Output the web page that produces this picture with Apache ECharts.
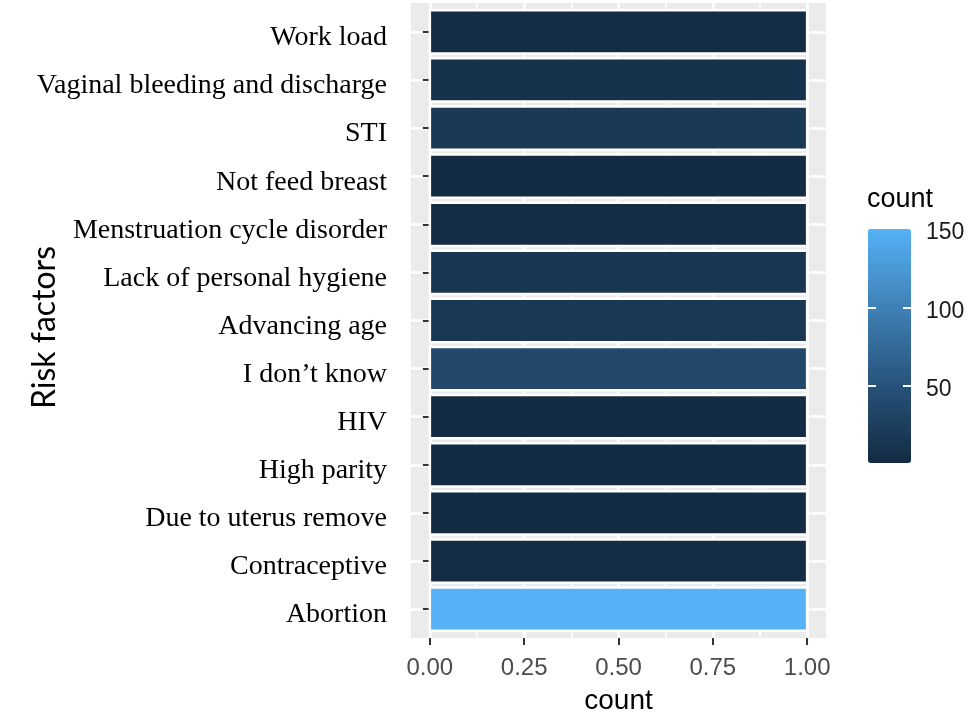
<!DOCTYPE html>
<html>
<head>
<meta charset="utf-8">
<script src="https://cdn.jsdelivr.net/npm/echarts@6/dist/echarts.min.js"></script>
<style>
html,body{margin:0;padding:0;background:#fff;}
#chart{width:968px;height:716px;}
</style>
</head>
<body>
<div id="chart"></div>
<script>
// Categories listed bottom -> top (as ggplot places them)
const categories = [
  'Abortion',
  'Contraceptive',
  'Due to uterus remove',
  'High parity',
  'HIV',
  'I don\u2019t know',
  'Advancing age',
  'Lack of personal hygiene',
  'Menstruation cycle disorder',
  'Not feed breast',
  'STI',
  'Vaginal bleeding and discharge',
  'Work load'
];
// bar length on the x axis ("count" of rows per factor)
const barValues = [1, 1, 1, 1, 1, 1, 1, 1, 1, 1, 1, 1, 1];
// fill variable (count) mapped to colour
const fillCounts = [150, 3, 2, 2, 1, 38, 17, 16, 3, 1, 18, 8, 3];
const xTicks = [0, 0.25, 0.5, 0.75, 1];
const xMinorTicks = [0.125, 0.375, 0.625, 0.875];
const legendTicks = [50, 100, 150];
const legendInnerTicks = [50, 100];

const gradient = ['#132B43','#1B3A57','#22496C','#2A5982','#336A98','#3C7BAF','#448DC6','#4D9FDE','#56B1F7'];

const yPositions = categories.map((c, i) => i + 1);
const data = categories.map((c, i) => [barValues[i], yPositions[i], fillCounts[i]]);

const chart = echarts.init(document.getElementById('chart'), null, {renderer: 'canvas'});

const legendTickAxis = (offset, inside) => ({
  type: 'value', gridIndex: 1, min: 1, max: 150, position: 'left', offset: offset,
  axisLine: {show: false},
  axisTick: {show: true, inside: inside, customValues: legendInnerTicks, length: 8, lineStyle: {color: '#ffffff', width: 2}},
  axisLabel: {show: false},
  splitLine: {show: false},
  z: 10
});

const option = {
  backgroundColor: '#ffffff',
  animation: false,
  title: {
    text: 'count',
    left: 867,
    top: 186,
    padding: 0,
    textStyle: {fontFamily: 'Liberation Sans', fontSize: 27, fontWeight: 'normal', color: '#000'}
  },
  grid: [
    {left: 411, top: 3, width: 415, height: 635, show: true, backgroundColor: '#EBEBEB', borderWidth: 0,
      containLabel: false, outerBoundsMode: 'none'},
    {left: 868, top: 229, width: 43, height: 234, show: false, containLabel: false, outerBoundsMode: 'none'}
  ],
  xAxis: [
    {
      type: 'value', gridIndex: 0, min: -0.05, max: 1.05,
      name: 'count', nameLocation: 'middle', nameGap: 49,
      nameTextStyle: {fontFamily: 'Liberation Sans', fontSize: 28, color: '#000'},
      axisLine: {show: false},
      axisTick: {show: true, customValues: xTicks, length: 7, lineStyle: {color: '#333', width: 2}},
      axisLabel: {show: true, customValues: xTicks, margin: 18, fontFamily: 'Liberation Sans', fontSize: 24, color: '#4D4D4D',
        formatter: v => v.toFixed(2)},
      splitLine: {show: true, lineStyle: {color: '#ffffff', width: 2.5}},
      z: 2
    },
    {
      type: 'value', gridIndex: 0, min: -0.05, max: 1.05,
      axisLine: {show: false},
      axisTick: {show: false, customValues: xMinorTicks},
      axisLabel: {show: false, customValues: xMinorTicks},
      splitLine: {show: true, lineStyle: {color: '#ffffff', width: 1.5}},
      z: 1
    },
    {type: 'value', gridIndex: 1, min: 0, max: 1, show: false}
  ],
  yAxis: [
    {
      type: 'value', gridIndex: 0, min: 0.4, max: 13.6,
      name: 'Risk factors', nameLocation: 'middle', nameGap: 350, nameRotate: 90, nameMoveOverlap: false,
      nameTextStyle: {fontFamily: 'Lato', fontSize: 32, fontWeight: 'normal', color: '#000', padding: [0, 14, 0, 0]},
      axisLine: {show: false},
      axisTick: {show: true, customValues: yPositions, length: 7, lineStyle: {color: '#333', width: 2}},
      axisLabel: {show: true, customValues: yPositions, margin: 24, fontFamily: 'Liberation Serif', fontSize: 28, color: '#000',
        verticalAlign: 'top', lineHeight: 12,
        formatter: v => categories[Math.round(v) - 1]},
      splitLine: {show: true, lineStyle: {color: '#ffffff', width: 2.5}}
    },
    {
      type: 'value', gridIndex: 1, min: 1, max: 150, position: 'right',
      axisLine: {show: false},
      axisTick: {show: false},
      axisLabel: {show: true, customValues: legendTicks, margin: 15, fontFamily: 'Liberation Sans', fontSize: 23, color: '#1a1a1a',
        verticalAlign: 'top', lineHeight: 8},
      splitLine: {show: false},
      z: 10
    },
    legendTickAxis(0, true),
    legendTickAxis(-43, false)
  ],
  visualMap: {
    type: 'continuous',
    min: 1, max: 150,
    dimension: 2,
    seriesIndex: 0,
    orient: 'vertical',
    left: 868, top: 229,
    itemWidth: 43, itemHeight: 234,
    padding: 0,
    calculable: false,
    hoverLink: false,
    showLabel: false,
    text: null,
    inRange: {color: gradient},
    z: 1
  },
  series: [{
    type: 'custom',
    xAxisIndex: 0,
    yAxisIndex: 0,
    encode: {x: 0, y: 1},
    data: data,
    z: 5,
    renderItem: function (params, api) {
      const v = api.value(0);
      const y = api.value(1);
      const p0 = api.coord([0, y]);
      const p1 = api.coord([v, y]);
      const h = api.size([0, 0.9])[1];
      return {
        type: 'rect',
        shape: {x: p0[0], y: p0[1] - h / 2, width: p1[0] - p0[0], height: h},
        style: {fill: api.visual('color'), stroke: '#ffffff', lineWidth: 2.5}
      };
    }
  }]
};
chart.setOption(option);
</script>
</body>
</html>
